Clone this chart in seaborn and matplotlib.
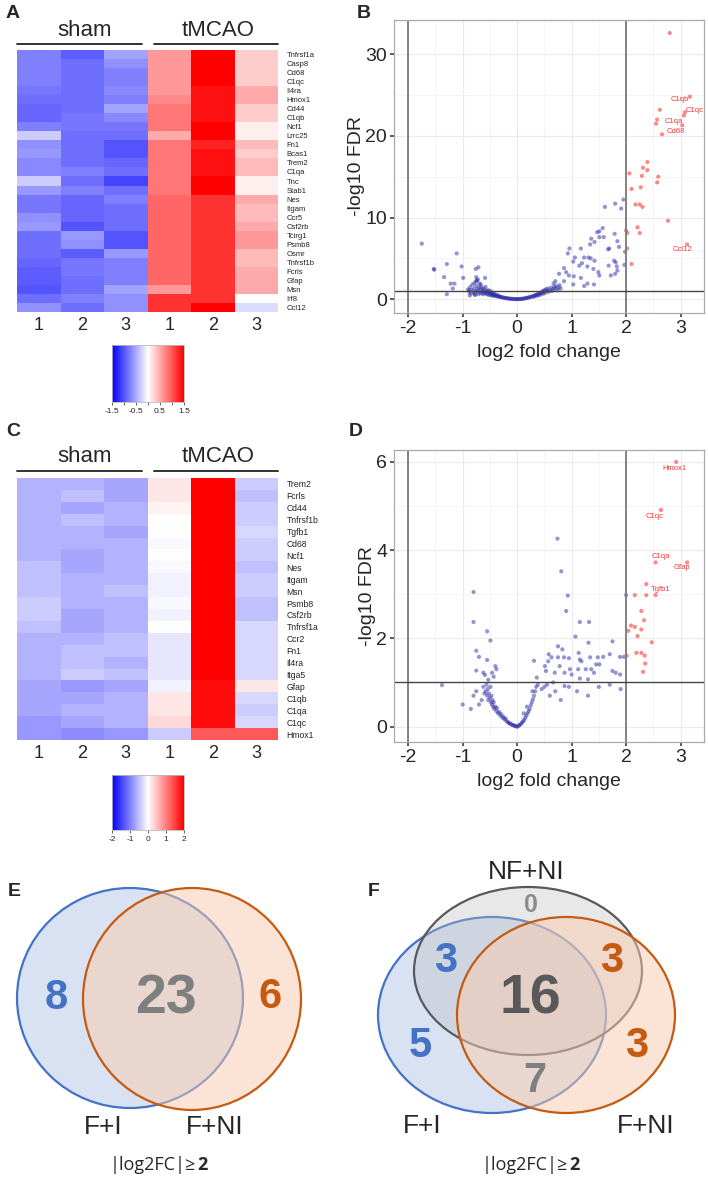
import numpy as np
import pandas as pd
import matplotlib
matplotlib.use("Agg")
import matplotlib.pyplot as plt
import seaborn as sns
from matplotlib.patches import Ellipse
from matplotlib.colors import LinearSegmentedColormap

sns.set_theme(style="white")
plt.rcParams['font.family'] = ['Liberation Sans', 'DejaVu Sans']
plt.rcParams['axes.unicode_minus'] = False

# ---------------- DATA ----------------
samples = ["1", "2", "3", "1", "2", "3"]

genes_a = ["Tnfrsf1a", "Casp8", "Cd68", "C1qc", "Il4ra", "Hmox1", "Cd44", "C1qb", "Ncf1",
           "Lrrc25", "Fn1", "Bcas1", "Trem2", "C1qa", "Tnc", "Stab1", "Nes", "Itgam", "Ccr5",
           "Csf2rb", "Tcirg1", "Psmb8", "Osmr", "Tnfrsf1b", "Fcrls", "Gfap", "Msn", "Irf8", "Ccl12"]
values_a = [
    [-0.75, -0.95, -0.55, 0.6, 1.5, 0.3],
    [-0.75, -0.85, -0.65, 0.6, 1.5, 0.3],
    [-0.75, -0.85, -0.75, 0.6, 1.5, 0.3],
    [-0.75, -0.85, -0.75, 0.6, 1.5, 0.3],
    [-0.80, -0.85, -0.70, 0.6, 1.4, 0.5],
    [-0.85, -0.85, -0.75, 0.7, 1.4, 0.5],
    [-0.90, -0.85, -0.55, 0.8, 1.4, 0.3],
    [-0.90, -0.80, -0.70, 0.8, 1.4, 0.3],
    [-0.75, -0.80, -0.80, 0.8, 1.5, 0.1],
    [-0.30, -0.85, -0.85, 0.5, 1.6, 0.1],
    [-0.65, -0.85, -1.00, 0.8, 1.3, 0.4],
    [-0.60, -0.85, -1.00, 0.8, 1.4, 0.3],
    [-0.70, -0.85, -0.90, 0.8, 1.4, 0.4],
    [-0.70, -0.75, -0.85, 0.8, 1.4, 0.4],
    [-0.30, -0.85, -1.10, 0.8, 1.5, 0.1],
    [-0.60, -0.75, -0.85, 0.8, 1.5, 0.1],
    [-0.80, -0.90, -0.75, 0.9, 1.2, 0.5],
    [-0.80, -0.90, -0.85, 0.9, 1.2, 0.4],
    [-0.65, -0.90, -0.85, 0.9, 1.2, 0.4],
    [-0.60, -1.00, -0.85, 0.9, 1.2, 0.5],
    [-0.85, -0.60, -1.00, 0.9, 1.2, 0.6],
    [-0.85, -0.65, -1.00, 0.9, 1.2, 0.6],
    [-0.85, -0.95, -0.60, 0.9, 1.2, 0.4],
    [-0.90, -0.80, -0.75, 0.9, 1.2, 0.4],
    [-0.95, -0.80, -0.75, 0.9, 1.2, 0.5],
    [-0.95, -0.85, -0.75, 0.9, 1.2, 0.5],
    [-1.00, -0.85, -0.55, 0.6, 1.2, 0.5],
    [-0.85, -0.75, -0.65, 1.2, 1.2, 0.0],
    [-0.65, -0.85, -0.65, 1.2, 1.5, -0.2],
]

genes_c = ["Trem2", "Fcrls", "Cd44", "Tnfrsf1b", "Tgfb1", "Cd68", "Ncf1", "Nes", "Itgam", "Msn",
           "Psmb8", "Csf2rb", "Tnfrsf1a", "Ccr2", "Fn1", "Il4ra", "Itga5", "Gfap", "C1qb",
           "C1qa", "C1qc", "Hmox1"]
values_c = [
    [-0.6, -0.6, -0.7, 0.2, 2.0, -0.4],
    [-0.6, -0.5, -0.7, 0.2, 2.0, -0.5],
    [-0.6, -0.7, -0.6, 0.1, 2.0, -0.4],
    [-0.6, -0.5, -0.6, 0.0, 2.0, -0.4],
    [-0.6, -0.6, -0.7, 0.0, 2.0, -0.3],
    [-0.6, -0.6, -0.6, -0.05, 2.0, -0.4],
    [-0.6, -0.7, -0.6, 0.0, 2.0, -0.4],
    [-0.5, -0.7, -0.6, -0.05, 2.0, -0.5],
    [-0.5, -0.6, -0.6, -0.1, 2.0, -0.4],
    [-0.5, -0.6, -0.5, -0.1, 2.0, -0.4],
    [-0.4, -0.6, -0.6, -0.05, 2.0, -0.5],
    [-0.4, -0.7, -0.6, -0.1, 2.0, -0.5],
    [-0.5, -0.7, -0.6, 0.0, 2.0, -0.3],
    [-0.6, -0.6, -0.5, -0.2, 2.0, -0.3],
    [-0.6, -0.5, -0.5, -0.2, 2.0, -0.3],
    [-0.6, -0.5, -0.6, -0.2, 2.0, -0.3],
    [-0.6, -0.4, -0.5, -0.2, 2.0, -0.3],
    [-0.7, -0.8, -0.7, -0.1, 1.9, 0.2],
    [-0.7, -0.7, -0.6, 0.2, 1.9, -0.3],
    [-0.7, -0.6, -0.6, 0.2, 1.9, -0.4],
    [-0.8, -0.7, -0.6, 0.3, 1.9, -0.3],
    [-0.8, -0.9, -0.8, -0.4, 1.3, 1.3],
]

# Volcano B: significant (red) and other (blue) genes
b_sig_x = [2.80, 3.17, 3.08, 3.06, 2.62, 2.57, 2.55, 3.03, 2.66, 2.39, 2.31, 2.39, 2.29, 2.59,
           2.57, 2.06, 2.10, 2.27, 2.17, 2.25, 2.30, 2.77, 2.21, 2.25, 2.00, 2.02, 2.02, 2.10, 3.12]
b_sig_y = [32.6, 24.8, 22.9, 22.5, 23.2, 22.0, 21.5, 21.3, 20.2, 16.8, 16.1, 15.8, 15.1, 15.0,
           14.3, 15.4, 13.5, 13.7, 11.6, 11.6, 11.3, 9.6, 8.8, 8.1, 8.4, 8.1, 6.2, 4.3, 6.7]
b_lab = ["C1qb", "C1qc", "C1qa", "Cd68", "Ccl12"]
b_lab_x = [2.99, 3.25, 2.87, 2.91, 3.03]
b_lab_y = [24.4, 23.1, 21.8, 20.5, 6.1]

b_other_x = [1.95, 1.80, 1.91, 1.61, 1.57, 1.51, 1.47, 1.51, 1.59, 1.36, 1.42, 1.34, 1.79, 1.84,
             1.69, 1.67, 1.87, 0.96, 0.93, 1.17, 1.98, 1.23, 1.31, 1.35, 1.42, 1.06, 1.03, 1.19,
             1.14, 1.29, 1.40, 1.49, 1.51, 1.68, 1.78, 1.81, 1.83, 1.84, 1.80, 1.97, 0.86, 0.90,
             0.77, 0.95, 1.04, 1.17, 1.29, 1.03, 0.86, 0.70, 0.67, 1.72, 1.23, 1.41,
             -1.75, -1.11, -1.53, -1.52, -1.29, -1.02, -0.71, -0.76, -1.34, -0.99, -1.22, -1.15,
             -1.18, -1.29, -0.75, -0.59, -0.72, -0.75, -0.67, -0.88, -0.87, -0.78,
             -0.90, -0.88, -0.86, -0.85, -0.83, -0.82, -0.80, -0.79, -0.78, -0.77, -0.76, -0.75,
             -0.74, -0.73, -0.72, -0.71, -0.70, -0.69, -0.68, -0.67, -0.66, -0.65, -0.64, -0.63,
             -0.62, -0.61, -0.60, -0.59, -0.58, -0.57, -0.56, -0.55, -0.54, -0.53, -0.52, -0.51,
             -0.50, -0.49, -0.48, -0.47, -0.46, -0.45, -0.44, -0.43, -0.42, -0.41, -0.40, -0.38,
             -0.37, -0.36, -0.34, -0.33, -0.31, -0.30, -0.28, -0.26, -0.24, -0.22, -0.20, -0.18,
             -0.16, -0.14, -0.12, -0.10, -0.08, -0.06, -0.04, -0.02, 0.00,
             0.02, 0.04, 0.06, 0.08, 0.10, 0.12, 0.14, 0.16, 0.18, 0.20, 0.22, 0.24, 0.26, 0.28,
             0.30, 0.31, 0.33, 0.34, 0.36, 0.37, 0.38, 0.40, 0.41, 0.42, 0.44, 0.45, 0.46, 0.48,
             0.49, 0.50, 0.52, 0.53, 0.55, 0.56, 0.58, 0.60, 0.62, 0.64, 0.66, 0.68, 0.70, 0.72,
             0.74, 0.76, 0.78, 0.80]
b_other_y = [12.2, 11.7, 11.1, 11.3, 8.7, 8.3, 8.2, 7.6, 7.6, 7.4, 7.0, 6.7, 8.0, 7.1,
             6.2, 6.1, 6.4, 6.2, 5.6, 6.2, 5.8, 5.1, 5.1, 5.0, 4.7, 5.1, 4.6, 4.4,
             4.1, 4.0, 3.7, 3.3, 2.9, 4.1, 4.7, 4.5, 4.0, 3.5, 3.1, 4.2, 3.8, 3.3,
             3.1, 2.9, 2.8, 2.6, 1.9, 1.8, 2.2, 2.2, 1.9, 2.9, 1.6, 1.8,
             6.8, 5.6, 3.7, 3.6, 4.3, 4.0, 3.9, 3.7, 2.7, 2.6, 1.9, 1.9,
             1.3, 0.6, 2.7, 2.6, 2.4, 2.2, 1.8, 1.1, 0.45, 0.6,
             1.2, 0.9, 1.5, 0.7, 1.1, 1.8, 0.8, 1.3, 2.0, 0.5, 1.0, 1.6,
             2.3, 0.9, 1.2, 0.6, 1.4, 1.9, 0.8, 1.1, 1.5, 0.7, 1.0, 1.3,
             0.6, 0.9, 1.2, 0.8, 1.5, 0.7, 1.0, 0.6, 0.9, 1.1, 0.5, 0.8,
             0.7, 1.0, 0.5, 0.6, 0.8, 0.4, 0.6, 0.5, 0.7, 0.4, 0.5, 0.4,
             0.35, 0.5, 0.3, 0.35, 0.28, 0.25, 0.22, 0.2, 0.17, 0.14, 0.12, 0.1,
             0.08, 0.06, 0.05, 0.03, 0.02, 0.01, 0.01, 0.0, 0.0,
             0.0, 0.01, 0.02, 0.03, 0.05, 0.07, 0.09, 0.12, 0.15, 0.18, 0.22, 0.25, 0.3, 0.35,
             0.4, 0.3, 0.45, 0.5, 0.55, 0.4, 0.6, 0.7, 0.5, 0.75, 0.8, 0.6, 0.9, 1.0,
             0.7, 1.1, 0.8, 1.2, 1.0, 1.3, 0.9, 1.1, 1.4, 1.0, 1.2, 1.5, 1.3, 1.6,
             1.1, 1.4, 1.7, 1.3]

# Volcano D
d_sig_x = [2.92, 2.64, 2.54, 3.12, 2.37, 2.16, 2.37, 2.54, 2.28, 2.33, 2.09, 2.16, 2.04, 2.28,
           2.21, 2.47, 2.01, 2.19, 2.28, 2.34, 2.35, 2.31]
d_sig_y = [6.0, 4.91, 3.72, 3.72, 3.23, 2.98, 2.98, 2.98, 2.62, 2.41, 2.29, 2.26, 2.17, 2.20,
           2.05, 1.91, 1.61, 1.67, 1.67, 1.61, 1.43, 1.24]
d_lab = ["Hmox1", "C1qc", "C1qa", "Gfap", "Tgfb1"]
d_lab_x = [2.88, 2.53, 2.63, 3.03, 2.63]
d_lab_y = [5.86, 4.76, 3.86, 3.61, 3.10]

d_other_x = [0.74, 0.81, 0.93, 0.90, 1.15, 1.32, 1.07, 1.31, 1.75, 2.00, -0.80, -0.80, -0.55,
             -0.49, -0.75, -0.70, -0.55, -0.75, 0.75, 0.83, 0.58, 0.31, 0.57, 0.63, 0.75, 0.86,
             0.95, 1.13, 1.15, 1.18, 1.34, 1.48, 1.58, 1.70, 1.89, 1.96, 1.45, 1.51, 1.36, 1.26,
             1.12, 0.97, 1.75, 1.81, 1.89, 1.41, 1.30, 1.15, 1.00, 0.87, 0.78, 0.69, 0.51, 0.53,
             0.36, 0.66, 0.87, -0.40, -0.38, -0.46, -0.43, -0.62, -0.59, -0.53, -1.38,
             -0.62, -0.60, -0.58, -0.56, -0.55, -0.54, -0.53, -0.52, -0.50, -0.49, -0.48, -0.47,
             -0.46, -0.45, -0.44, -0.43, -0.42, -0.40, -0.38, -0.37, -0.35, -0.33, -0.31, -0.29,
             -0.27, -0.25, -0.23, -0.21, -0.19, -0.17, -0.15, -0.13, -0.11, -0.09, -0.07, -0.05,
             -0.03, -0.01, 0.01, 0.03, 0.05, 0.07, 0.09, 0.11, 0.13, 0.15, 0.17, 0.19, 0.21,
             0.23, 0.25, 0.27, 0.29, 0.31, 0.33, 0.35, 0.12, 0.18, 0.28, 0.38, 0.45, 0.50, 0.55,
             -0.65, -0.70, -0.75, -0.80, -1.00, -0.85, 0.60, 0.70, 0.80, 0.95, 1.10, 1.30, 1.50,
             1.70, 1.90]
d_other_y = [4.26, 3.52, 2.97, 2.62, 2.37, 2.37, 2.04, 1.90, 1.93, 2.98, 3.05, 2.37, 2.16,
             1.95, 1.72, 1.58, 1.51, 1.27, 1.82, 1.75, 1.64, 1.49, 1.48, 1.57, 1.57, 1.57,
             1.55, 1.67, 1.52, 1.48, 1.57, 1.57, 1.58, 1.64, 1.58, 1.58, 1.41, 1.41, 1.30, 1.30,
             1.30, 1.30, 1.26, 1.22, 1.18, 1.22, 1.07, 1.09, 1.18, 1.22, 1.37, 1.22, 1.37, 1.26,
             1.11, 1.00, 0.92, 1.37, 1.30, 1.22, 1.13, 1.22, 1.17, 1.06, 0.94,
             0.90, 0.75, 0.80, 0.95, 0.70, 0.85, 0.60, 0.75, 0.65, 0.90, 0.55, 0.70,
             0.50, 0.60, 0.45, 0.55, 0.40, 0.45, 0.35, 0.42, 0.30, 0.33, 0.25, 0.28,
             0.20, 0.22, 0.16, 0.18, 0.12, 0.10, 0.08, 0.07, 0.05, 0.04, 0.03, 0.02,
             0.01, 0.00, 0.00, 0.02, 0.04, 0.06, 0.09, 0.12, 0.15, 0.20, 0.25, 0.30, 0.35,
             0.40, 0.48, 0.55, 0.62, 0.70, 0.80, 0.90, 0.30, 0.45, 0.80, 0.95, 0.85, 0.90, 0.95,
             0.60, 0.50, 0.80, 0.70, 0.50, 0.40, 0.70, 0.80, 0.60, 0.90, 0.80, 0.70, 0.90,
             0.95, 0.85]

# Venn counts
venn_e_counts = [8, 23, 6]            # F+I only, shared, F+NI only
venn_e_sets = ["F+I", "F+NI"]
venn_f_counts = [0, 3, 3, 16, 5, 3, 7]  # NF+NI only, FI&NF, FNI&NF, all, FI only, FNI only, FI&FNI
venn_f_sets = ["NF+NI", "F+I", "F+NI"]
threshold_label = "log2FC"
threshold_value = 2

# ---------------- FIGURE ----------------
W, H = 708, 1179
fig = plt.figure(figsize=(W / 100, H / 100), dpi=100)


def rect(x0, y0, x1, y1):
    return [x0 / W, 1 - y1 / H, (x1 - x0) / W, (y1 - y0) / H]


cmap = LinearSegmentedColormap.from_list("bwr2", ["#0000FF", "#FFFFFF", "#FF0000"])

ov = fig.add_axes([0, 0, 1, 1], zorder=10)
ov.set_xlim(0, W)
ov.set_ylim(H, 0)
ov.axis("off")
ov.patch.set_alpha(0)


def draw_heatmap(box, genes, vals, vlim, lab_size, cbox, cticks, cticklabels, cminor,
                 grp_y, line_y, num_y):
    ax = fig.add_axes(rect(*box))
    df = pd.DataFrame(vals, index=genes, columns=range(6))
    sns.heatmap(df, ax=ax, cmap=cmap, vmin=-vlim, vmax=vlim, cbar=False,
                xticklabels=False, yticklabels=genes)
    ax.yaxis.tick_right()
    ax.tick_params(axis="y", length=0, pad=6, labelsize=lab_size, rotation=0)
    for t in ax.get_yticklabels():
        t.set_color("#222222")
    ax.set_xlabel("")
    ax.set_ylabel("")
    x0, y0, x1, y1 = box
    cw = (x1 - x0) / 6
    for i, s in enumerate(samples):
        ov.text(x0 + cw * (i + 0.5), num_y, s, ha="center", va="center", fontsize=13)
    ov.text(x0 + 3 * cw / 2 + 2, grp_y, "sham", ha="center", va="center", fontsize=16)
    ov.text(x0 + 9 * cw / 2 + 5, grp_y, "tMCAO", ha="center", va="center", fontsize=16)
    ov.plot([x0, x0 + 3 * cw - 6], [line_y, line_y], color="#222222", lw=1.3)
    ov.plot([x0 + 3 * cw + 6, x1], [line_y, line_y], color="#222222", lw=1.3)
    cax = fig.add_axes(rect(*cbox))
    cb = fig.colorbar(ax.collections[0], cax=cax, orientation="horizontal", ticks=cticks)
    cb.ax.set_xticklabels(cticklabels)
    cb.ax.set_xticks(cminor, minor=True)
    cb.ax.tick_params(which="major", labelsize=6, length=2.5, width=0.6, pad=1.5, color="#444444")
    cb.ax.tick_params(which="minor", length=2.5, width=0.6, color="#444444")
    cb.outline.set_edgecolor("#BBBBBB")
    cb.outline.set_linewidth(0.6)
    return ax


def draw_volcano(box, ox, oy, sx, sy, labs, lx, ly, ylim, yticks, yminor):
    ax = fig.add_axes(rect(*box))
    sns.scatterplot(x=ox, y=oy, ax=ax, color="#2B2BA8", alpha=0.5, s=9, edgecolor="none")
    sns.scatterplot(x=sx, y=sy, ax=ax, color="#FF5555", alpha=0.7, s=9, edgecolor="none")
    for t, xx, yy in zip(labs, lx, ly):
        ax.text(xx, yy, t, color="#FF3333", fontsize=5.5, ha="center", va="center")
    ax.set_xlim(-2.26, 3.43)
    ax.set_ylim(*ylim)
    ax.set_xticks([-2, -1, 0, 1, 2, 3])
    ax.set_xticks([-1.5, -0.5, 0.5, 1.5, 2.5], minor=True)
    ax.set_yticks(yticks)
    ax.set_yticks(yminor, minor=True)
    ax.grid(True, which="major", color="#EBEBEB", lw=0.8)
    ax.grid(True, which="minor", color="#F4F4F4", lw=0.6)
    ax.set_axisbelow(True)
    for sp in ax.spines.values():
        sp.set_color("#AAAAAA")
        sp.set_linewidth(0.9)
    ax.axvline(-2, color="#7A7A7A", lw=1.3, zorder=1)
    ax.axvline(2, color="#7A7A7A", lw=1.3, zorder=1)
    ax.axhline(1, color="#444444", lw=1.0, zorder=1)
    ax.tick_params(axis="both", which="major", labelsize=14, length=3, color="#444444",
                   direction="out", bottom=True, left=True, pad=2)
    ax.tick_params(which="minor", length=0)
    ax.set_xlabel("log2 fold change", fontsize=14, labelpad=5)
    ax.set_ylabel("-log10 FDR", fontsize=14, labelpad=0)
    return ax


# Panel A
draw_heatmap((17, 50, 278, 312), genes_a, values_a, 1.5, 5.5, (112, 345, 184, 402),
             [-1.5, -0.5, 0.5, 1.5], ["-1.5", "-0.5", "0.5", "1.5"], [-1, 0, 1], 31, 44, 326)
# Panel C
draw_heatmap((17, 478, 278, 740), genes_c, values_c, 2.0, 6.2, (112, 775, 184, 830),
             [-2, -1, 0, 1, 2], ["-2", "-1", "0", "1", "2"], [], 457, 471, 753)

# Panel B
draw_volcano((394, 20, 704, 313), b_other_x, b_other_y, b_sig_x, b_sig_y, b_lab, b_lab_x, b_lab_y,
             (-1.7, 34.2), [0, 10, 20, 30], [5, 15, 25])
# Panel D
draw_volcano((394, 450, 704, 742), d_other_x, d_other_y, d_sig_x, d_sig_y, d_lab, d_lab_x, d_lab_y,
             (-0.35, 6.27), [0, 2, 4, 6], [1, 3, 5])

# Panel letters
for lt, xx, yy in [("A", 13, 13), ("B", 364, 13), ("C", 13, 432), ("D", 356, 432),
                   ("E", 14, 891), ("F", 374, 891)]:
    ov.text(xx, yy, lt, fontsize=14, fontweight="bold", ha="center", va="center")

# ---------------- VENN ----------------
BLUE, ORANGE, GRAY = "#4472C4", "#C55A11", "#595959"
vax = fig.add_axes([0, 0, 1, 1], zorder=5)
vax.set_xlim(0, W)
vax.set_ylim(H, 0)
vax.axis("off")
vax.patch.set_alpha(0)


def ell(cx, cy, rx, ry, fc, ec, a):
    vax.add_patch(Ellipse((cx, cy), 2 * rx, 2 * ry, facecolor=matplotlib.colors.to_rgba(fc, a),
                          edgecolor=ec, lw=1.6))


# E
ell(130, 998, 113, 110, "#B4C7E7", BLUE, 0.5)
ell(192, 999, 109, 111, "#F8CBAD", ORANGE, 0.5)
vax.text(56, 998, str(venn_e_counts[0]), color=BLUE, fontsize=30, fontweight="bold", ha="center", va="center")
vax.text(166, 1000, str(venn_e_counts[1]), color="#7F7F7F", fontsize=40, fontweight="bold", ha="center", va="center")
vax.text(270, 997, str(venn_e_counts[2]), color=ORANGE, fontsize=30, fontweight="bold", ha="center", va="center")
vax.text(103, 1127, venn_e_sets[0], fontsize=19, ha="center", va="center")
vax.text(215, 1127, venn_e_sets[1], fontsize=19, ha="center", va="center")

# F
ell(492, 1015, 114, 98, "#B4C7E7", BLUE, 0.5)
ell(528, 971, 114, 84, "#BFBFBF", GRAY, 0.35)
ell(566, 1015, 109, 98, "#F8CBAD", ORANGE, 0.5)
f_pos = [(531, 905, "#8C8C8C", 18), (446, 961, BLUE, 30), (612, 961, ORANGE, 30),
         (530, 1000, "#595959", 40), (420, 1046, BLUE, 30), (637, 1046, ORANGE, 30),
         (535, 1081, "#7F7F7F", 30)]
for c, (xx, yy, col, fs) in zip(venn_f_counts, f_pos):
    vax.text(xx, yy, str(c), color=col, fontsize=fs, fontweight="bold", ha="center", va="center")
vax.text(526, 872, venn_f_sets[0], fontsize=19, ha="center", va="center")
vax.text(422, 1126, venn_f_sets[1], fontsize=19, ha="center", va="center")
vax.text(646, 1126, venn_f_sets[2], fontsize=19, ha="center", va="center")

# threshold captions
for cx in (165, 537):
    vax.text(cx + 31, 1165, "|" + threshold_label + "|\u2265", fontsize=13, ha="right", va="center",
             family=["Open Sans", "DejaVu Sans"])
    vax.text(cx + 32, 1165, str(threshold_value), fontsize=13, fontweight="bold", ha="left",
             va="center", family=["Open Sans", "DejaVu Sans"])

fig.savefig("out.png", dpi=100)
